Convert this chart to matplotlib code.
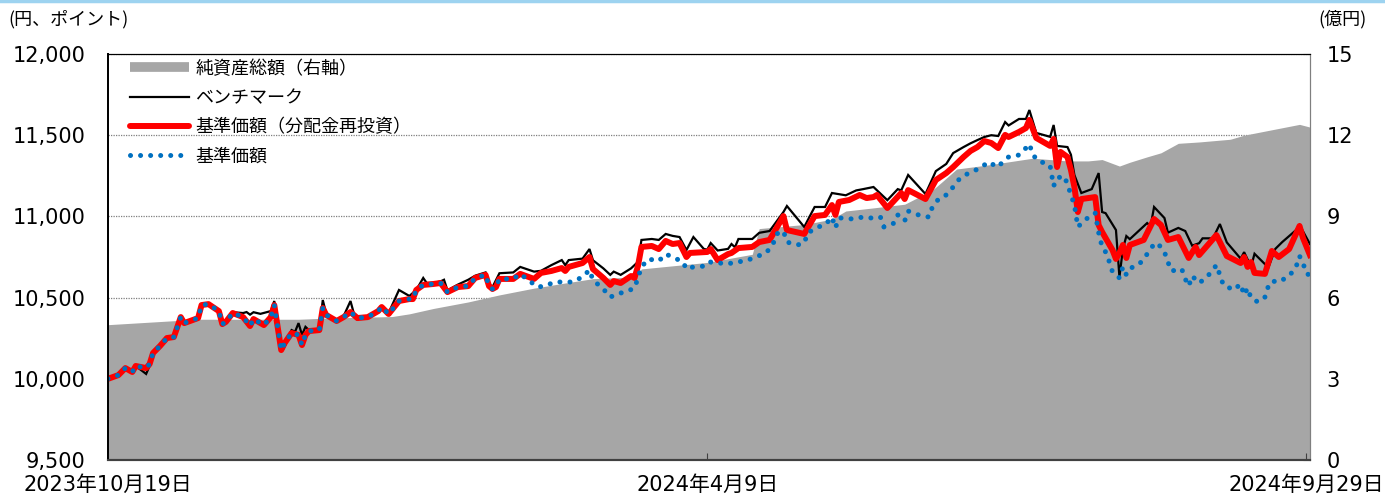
import matplotlib.pyplot as plt
import pandas as pd
from matplotlib.lines import Line2D

# digits in DejaVu (wide like the original), Japanese falls back to Noto CJK
plt.rcParams['font.family'] = ['DejaVu Sans', 'Noto Sans CJK JP']
JP = ['Noto Sans CJK JP', 'DejaVu Sans']

START = pd.Timestamp('2023-10-19')

# 基準価額(分配金再投資) : days from start, value
red_days = [0, 3, 5, 7, 8, 11, 12, 13, 15, 17, 19, 21, 22, 26, 27, 29, 32, 33, 34, 36,
            39, 41, 42, 45, 47, 48, 50, 51, 53, 55, 56, 57, 58, 61, 62, 63, 66, 68, 70, 72,
            75, 78, 79, 81, 84, 87, 88, 89, 91, 94, 96, 98, 101, 104, 106, 109, 110, 111, 112, 113,
            117, 119, 123, 125, 128, 131, 132, 133, 137, 139, 140, 143, 145, 146, 148, 151, 152, 153, 154, 157,
            159, 161, 163, 165, 167, 168, 173, 174, 176, 179, 180, 182, 186, 188, 191, 195, 196, 201, 203, 204,
            207, 209, 210, 211, 214, 217, 219, 221, 222, 225, 229, 230, 231, 236, 239, 242, 244, 247, 249, 251,
            253, 255, 257, 259, 260, 263, 265, 266, 268, 272, 273, 274, 275, 277, 278, 279, 280, 281, 285, 286,
            287, 290, 291, 292, 293, 294, 295, 299, 302, 304, 306, 309, 312, 314, 315, 320, 323, 327, 328, 329,
            330, 331, 334, 336, 338, 341, 344, 345, 347]
red_vals = [10000, 10023, 10066, 10042, 10079, 10066, 10091, 10159, 10202, 10251, 10257, 10380, 10343, 10374, 10454, 10460, 10417, 10337, 10350, 10405,
            10380, 10325, 10368, 10331, 10380, 10454, 10177, 10220, 10282, 10270, 10208, 10270, 10294, 10300, 10436, 10393, 10356, 10380, 10411, 10374,
            10380, 10417, 10442, 10399, 10479, 10491, 10491, 10547, 10578, 10584, 10590, 10534, 10565, 10571, 10621, 10640, 10571, 10553, 10565, 10615,
            10615, 10646, 10615, 10652, 10664, 10682, 10664, 10689, 10713, 10750, 10676, 10621, 10578, 10602, 10590, 10633, 10621, 10695, 10812, 10818,
            10799, 10849, 10830, 10836, 10750, 10775, 10781, 10799, 10731, 10768, 10775, 10805, 10812, 10842, 10855, 11002, 10916, 10892, 10966, 11002,
            11009, 11070, 11009, 11089, 11101, 11132, 11113, 11119, 11132, 11052, 11144, 11107, 11162, 11107, 11224, 11267, 11304, 11366, 11403, 11427,
            11464, 11452, 11421, 11502, 11489, 11520, 11544, 11594, 11483, 11434, 11477, 11304, 11397, 11366, 11286, 11181, 11027, 11107, 11119, 10947,
            10904, 10793, 10738, 10775, 10824, 10744, 10824, 10855, 10984, 10947, 10855, 10873, 10744, 10812, 10762, 10885, 10756, 10713, 10750, 10689,
            10719, 10652, 10646, 10787, 10750, 10799, 10941, 10867, 10762]

# ベンチマーク
bm_days = [0, 3, 5, 7, 8, 11, 12, 13, 15, 17, 19, 21, 22, 26, 27, 29, 32, 33, 34, 36,
           39, 40, 41, 42, 44, 47, 48, 50, 51, 53, 54, 55, 56, 57, 58, 61, 62, 63, 66, 68,
           70, 71, 72, 75, 78, 79, 81, 84, 87, 89, 91, 92, 94, 96, 97, 98, 101, 103, 104, 106,
           109, 110, 111, 113, 117, 119, 123, 125, 128, 131, 132, 133, 137, 139, 140, 143, 145, 146, 148, 151,
           153, 154, 157, 159, 161, 163, 165, 167, 169, 172, 173, 174, 176, 179, 180, 181, 182, 186, 188, 191,
           195, 196, 201, 204, 207, 209, 213, 216, 218, 221, 225, 228, 229, 231, 236, 239, 242, 244, 247, 249,
           251, 253, 255, 257, 259, 260, 263, 265, 266, 268, 272, 273, 274, 277, 278, 279, 281, 284, 286, 287,
           288, 291, 292, 293, 294, 295, 300, 301, 302, 305, 306, 309, 311, 313, 315, 316, 319, 321, 323, 327,
           328, 330, 331, 335, 337, 339, 343, 344, 347]
bm_vals = [10000, 10023, 10066, 10042, 10079, 10030, 10080, 10159, 10202, 10251, 10257, 10380, 10343, 10374, 10460, 10466, 10417, 10337, 10350, 10410,
           10405, 10411, 10395, 10410, 10400, 10417, 10479, 10190, 10200, 10300, 10290, 10343, 10270, 10320, 10300, 10305, 10485, 10400, 10360, 10385,
           10479, 10400, 10365, 10385, 10420, 10445, 10405, 10547, 10510, 10547, 10621, 10590, 10590, 10600, 10610, 10545, 10580, 10600, 10610, 10635,
           10655, 10585, 10565, 10650, 10655, 10689, 10660, 10665, 10700, 10731, 10700, 10731, 10740, 10799, 10730, 10680, 10640, 10660, 10640, 10680,
           10720, 10855, 10861, 10855, 10892, 10880, 10873, 10793, 10873, 10800, 10795, 10836, 10790, 10800, 10830, 10810, 10861, 10861, 10899, 10910,
           11027, 11064, 10935, 11058, 11058, 11144, 11130, 11160, 11168, 11181, 11100, 11168, 11160, 11255, 11138, 11279, 11323, 11390, 11427, 11450,
           11470, 11489, 11500, 11495, 11581, 11560, 11600, 11600, 11655, 11514, 11490, 11563, 11434, 11427, 11380, 11255, 11144, 11168, 11267, 11027,
           11020, 10916, 10627, 10800, 10879, 10860, 10959, 10940, 11058, 10990, 10900, 10929, 10910, 10820, 10835, 10865, 10865, 10953, 10840, 10740,
           10780, 10690, 10770, 10685, 10800, 10842, 10916, 10947, 10830]

# 基準価額
nav_days = red_days[:red_days.index(119) + 1] + [
    124, 126, 129, 131, 134, 137, 139, 140, 143, 145, 147, 150, 152, 153, 154, 156, 159, 161, 163, 166,
    167, 169, 173, 174, 179, 181, 184, 187, 190, 192, 193, 195, 196, 199, 201, 202, 205, 207, 209, 210,
    211, 212, 215, 218, 220, 223, 224, 227, 228, 230, 231, 234, 237, 238, 240, 242, 244, 246, 249, 252,
    254, 257, 258, 260, 263, 265, 266, 267, 269, 271, 272, 273, 274, 276, 277, 278, 279, 280, 282, 285,
    286, 287, 288, 289, 290, 292, 293, 294, 296, 298, 300, 302, 303, 305, 306, 307, 310, 311, 312, 313,
    315, 317, 319, 320, 322, 325, 327, 328, 329, 330, 332, 334, 335, 336, 338, 341, 343, 344, 345, 346, 347]
nav_vals = red_vals[:red_days.index(119) + 1] + [
    10565, 10571, 10596, 10596, 10596, 10627, 10670, 10608, 10553, 10503, 10522, 10540, 10559, 10621, 10689, 10738, 10725, 10768, 10750, 10719,
    10676, 10689, 10695, 10719, 10707, 10719, 10725, 10750, 10775, 10830, 10892, 10910, 10842, 10824, 10836, 10898, 10935, 10947, 10996, 10929,
    10990, 10990, 10984, 10996, 10990, 10996, 10935, 10959, 11009, 10972, 11033, 11009, 10996, 11058, 11113, 11132, 11181, 11236, 11273, 11298,
    11335, 11304, 11329, 11366, 11378, 11421, 11446, 11378, 11335, 11329, 11310, 11187, 11236, 11249, 11199, 11132, 11070, 10935, 10978, 11021,
    10900, 10812, 10781, 10725, 10658, 10621, 10689, 10640, 10695, 10713, 10768, 10830, 10836, 10781, 10719, 10664, 10676, 10615, 10571, 10633,
    10590, 10621, 10670, 10701, 10578, 10547, 10584, 10516, 10559, 10497, 10473, 10503, 10571, 10602, 10596, 10633, 10689, 10756, 10713, 10646, 10640]

# 純資産総額(億円)
aum_days = [0, 26, 41, 55, 65, 82, 87, 94, 104, 113, 123, 132, 140, 152, 154, 173, 186, 188, 201, 209,
            213, 220, 230, 238, 241, 245, 254, 267, 277, 283, 287, 292, 295, 300, 304, 309, 315, 324, 328, 336,
            344, 347]
aum_vals = [5.0, 5.2, 5.2, 5.2, 5.25, 5.3, 5.4, 5.6, 5.84, 6.1, 6.35, 6.54, 6.7, 6.76, 7.06, 7.3, 7.6, 8.55, 8.7, 8.9,
            9.2, 9.3, 9.45, 9.97, 10.3, 10.75, 10.9, 11.15, 11.05, 11.05, 11.1, 10.86, 11.0, 11.2, 11.35, 11.7, 11.75, 11.85, 12.0, 12.2,
            12.4, 12.3]

tick_dates = ['2023-10-19', '2024-04-09', '2024-09-29']


def to_dates(days):
    return START + pd.to_timedelta(days, unit='D')


fig = plt.figure(figsize=(13.85, 4.95), dpi=100)
ax = fig.add_axes([0.078, 0.0707, 0.8678, 0.8202])
ax2 = ax.twinx()
ax.set_zorder(2)
ax2.set_zorder(1)
ax.patch.set_visible(False)

# net assets area + gridlines on the right axis (grid sits under the area)
ax2.set_axisbelow(True)
ax2.fill_between(to_dates(aum_days), aum_vals, 0, color='#A6A6A6', linewidth=0)
ax2.set_ylim(0, 15)
ax2.set_yticks([0, 3, 6, 9, 12, 15])
ax2.yaxis.grid(True, color='#7F7F7F', linestyle=(0, (1, 1)), linewidth=0.9)

ax.plot(to_dates(bm_days), bm_vals, color='black', lw=1.6, solid_joinstyle='miter')
ax.plot(to_dates(red_days), red_vals, color='#FF0000', lw=4.3, solid_joinstyle='round')
ax.plot(to_dates(nav_days), nav_vals, color='#0070C0', lw=3.6,
        linestyle=(0, (0.01, 2.0)), dash_capstyle='round')

ax.set_ylim(9500, 12000)
ax.set_yticks([9500, 10000, 10500, 11000, 11500, 12000])
ax.set_yticklabels([f'{v:,}' for v in ax.get_yticks()])
ax.set_xlim(START, START + pd.Timedelta(days=347))
td = pd.to_datetime(tick_dates)
ax.set_xticks(td)
ax.set_xticklabels([f'{d.year}年{d.month}月{d.day}日' for d in td])

ax.tick_params(axis='y', direction='in', length=0, labelsize=15, pad=16.5)
ax.tick_params(axis='x', direction='in', length=5, labelsize=15, pad=11, color='#404040')
ax2.tick_params(axis='y', direction='in', length=5, labelsize=15, pad=12, color='#7F7F7F')

for a in (ax, ax2):
    a.spines['left'].set_color('black')
    a.spines['bottom'].set_color('#404040')
    a.spines['top'].set_color('black')
    a.spines['right'].set_color('#7F7F7F')
    a.spines['bottom'].set_linewidth(1.5)
    a.spines['left'].set_linewidth(1.3)

handles = [Line2D([], [], color='#A6A6A6', lw=7, solid_capstyle='butt'),
           Line2D([], [], color='black', lw=1.6),
           Line2D([], [], color='#FF0000', lw=4.3, solid_capstyle='round'),
           Line2D([], [], color='#0070C0', lw=3.6, linestyle=(0, (0.01, 2.0)), dash_capstyle='round')]
labels = ['純資産総額（右軸）', 'ベンチマーク', '基準価額（分配金再投資）', '基準価額']
ax.legend(handles, labels, loc='upper left', bbox_to_anchor=(0.008, 1.017), frameon=False,
          prop={'family': JP, 'size': 13}, handlelength=3.25, handletextpad=0.35,
          labelspacing=0.62, borderpad=0.2)

fig.text(0.006, 0.962, '(円、ポイント)', fontsize=13, va='center', ha='left', family=JP)
fig.text(0.987, 0.962, '(億円)', fontsize=13, va='center', ha='right', family=JP)
fig.add_artist(Line2D([0, 1], [0.997, 0.997], transform=fig.transFigure, color='#9DD3F0', lw=2.5))

fig.savefig('out.png', dpi=100)
